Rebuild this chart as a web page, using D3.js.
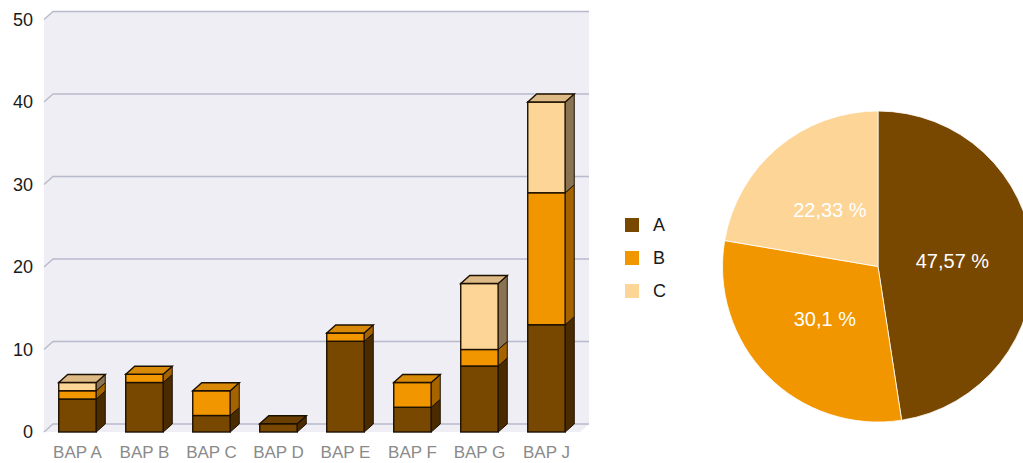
<!DOCTYPE html>
<html>
<head>
<meta charset="utf-8">
<script src="https://cdn.jsdelivr.net/npm/d3@7"></script>
<style>
  body { margin: 0; background: #fff; }
  svg text { font-family: "Liberation Sans", Arial, sans-serif; }
</style>
</head>
<body>
<svg class="chart-svg" width="1023" height="463"></svg>
<script>
// bar chart data
const categories = ['BAP A', 'BAP B', 'BAP C', 'BAP D', 'BAP E', 'BAP F', 'BAP G', 'BAP J']
const seriesKeys = ['A', 'B', 'C']
const valuesA = [4, 6, 2, 1, 11, 3, 8, 13]
const valuesB = [1, 1, 3, 0, 1, 3, 2, 16]
const valuesC = [1, 0, 0, 0, 0, 0, 8, 11]
const yTicks = [0, 10, 20, 30, 40, 50]

// pie chart data
const pieKeys = ['A', 'B', 'C']
const pieValues = [49, 31, 23]

const colors = {
  A: { front: '#784700', side: '#4a2b00', top: '#6a3f00' },
  B: { front: '#f29600', side: '#a56300', top: '#d98908' },
  C: { front: '#fdd596', side: '#8a7353', top: '#ddb986' }
}

const svg = d3.select('.chart-svg')
const depthX = 9
const depthY = -8

const rows = categories.map((c, i) => ({ cat: c, A: valuesA[i], B: valuesB[i], C: valuesC[i] }))

const xScale = d3.scaleBand()
  .domain(categories)
  .range([44, 580])
  .paddingInner(0.44)
  .paddingOuter(0.22)

const yScale = d3.scaleLinear().domain([0, 50]).range([432, 19.5])

/**
 * Draws the 3D walls and the grid lines of the bar chart
 */
function drawGrid () {
  const g = svg.append('g').attr('class', 'grid')
  const x0 = 44
  const x1 = 580
  const yb = yScale(0)
  const yt = yScale(50)
  // back wall, left wall, floor
  g.append('polygon')
    .attr('points', [[x0 + depthX, yt + depthY], [x1 + depthX, yt + depthY], [x1 + depthX, yb + depthY], [x1, yb], [x0, yb], [x0, yt]].join(' '))
    .attr('fill', '#eeeef4')
  g.selectAll('path.gl')
    .data(yTicks)
    .enter()
    .append('path')
    .attr('class', 'gl')
    .attr('d', d => `M${x0},${yScale(d)}L${x0 + depthX},${yScale(d) + depthY}H${x1 + depthX}`)
    .attr('fill', 'none')
    .attr('stroke', '#b9b9cc')
    .attr('stroke-width', 1.3)
  g.selectAll('text.yt')
    .data(yTicks)
    .enter()
    .append('text')
    .attr('class', 'yt')
    .attr('x', 33)
    .attr('y', d => yScale(d))
    .attr('dy', '0.36em')
    .attr('text-anchor', 'end')
    .attr('font-size', 18)
    .attr('fill', '#1a1a1a')
    .text(d => d)
}

/**
 * Draws the stacked 3D bars
 */
function drawBars () {
  const stacked = d3.stack().keys(seriesKeys)(rows)
  const w = xScale.bandwidth()
  const g = svg.append('g').attr('class', 'bars')
  rows.forEach((row, i) => {
    const bar = g.append('g')
    const segs = stacked.map(s => ({ key: s.key, lo: s[i][0], hi: s[i][1] })).filter(s => s.hi > s.lo)
    segs.forEach((s, j) => {
      const x = xScale(row.cat)
      const yt = yScale(s.hi)
      const yb = yScale(s.lo)
      const c = colors[s.key]
      bar.append('rect')
        .attr('x', x).attr('y', yt)
        .attr('width', w).attr('height', yb - yt)
        .attr('fill', c.front)
        .attr('stroke', '#1c1000').attr('stroke-width', 1.4)
      bar.append('polygon')
        .attr('points', [[x + w, yt], [x + w + depthX, yt + depthY], [x + w + depthX, yb + depthY], [x + w, yb]].join(' '))
        .attr('fill', c.side)
        .attr('stroke', '#1c1000').attr('stroke-width', 1)
      if (j === segs.length - 1) {
        bar.append('polygon')
          .attr('points', [[x, yt], [x + depthX, yt + depthY], [x + w + depthX, yt + depthY], [x + w, yt]].join(' '))
          .attr('fill', c.top)
          .attr('stroke', '#1c1000').attr('stroke-width', 1.4)
      }
    })
  })
  svg.append('g')
    .selectAll('text')
    .data(categories)
    .enter()
    .append('text')
    .attr('x', d => xScale(d) + w / 2)
    .attr('y', 458)
    .attr('text-anchor', 'middle')
    .attr('font-size', 17)
    .attr('fill', '#8a8a8a')
    .text(d => d)
}

/**
 * Draws the legend between the two charts
 */
function drawLegend () {
  const g = svg.append('g').attr('class', 'legend')
  const items = g.selectAll('g')
    .data(seriesKeys)
    .enter()
    .append('g')
    .attr('transform', (d, i) => `translate(625,${218 + i * 33})`)
  items.append('rect')
    .attr('width', 14).attr('height', 14)
    .attr('fill', d => colors[d].front)
  items.append('text')
    .attr('x', 28).attr('y', 7)
    .attr('dy', '0.36em')
    .attr('font-size', 18)
    .attr('fill', '#1a1a1a')
    .text(d => d)
}

/**
 * Draws the pie chart with percentage labels
 */
function drawPie () {
  const r = 155.5
  const total = d3.sum(pieValues)
  const arcs = d3.pie().sort(null)(pieValues)
  const arc = d3.arc().innerRadius(0).outerRadius(r)
  const labelArc = d3.arc().innerRadius(r * 0.48).outerRadius(r * 0.48)
  const g = svg.append('g').attr('transform', 'translate(878,266.5)')
  g.selectAll('path')
    .data(arcs)
    .enter()
    .append('path')
    .attr('d', arc)
    .attr('fill', (d, i) => colors[pieKeys[i]].front)
    .attr('stroke', '#fff')
    .attr('stroke-width', 0.8)
  g.selectAll('text')
    .data(arcs)
    .enter()
    .append('text')
    .attr('transform', d => `translate(${labelArc.centroid(d)})`)
    .attr('dy', '0.36em')
    .attr('text-anchor', 'middle')
    .attr('font-size', 20)
    .attr('fill', '#fff')
    .text(d => String(Math.round(d.value / total * 10000) / 100).replace('.', ',') + ' %')
}

drawGrid()
drawBars()
drawLegend()
drawPie()
</script>
</body>
</html>
